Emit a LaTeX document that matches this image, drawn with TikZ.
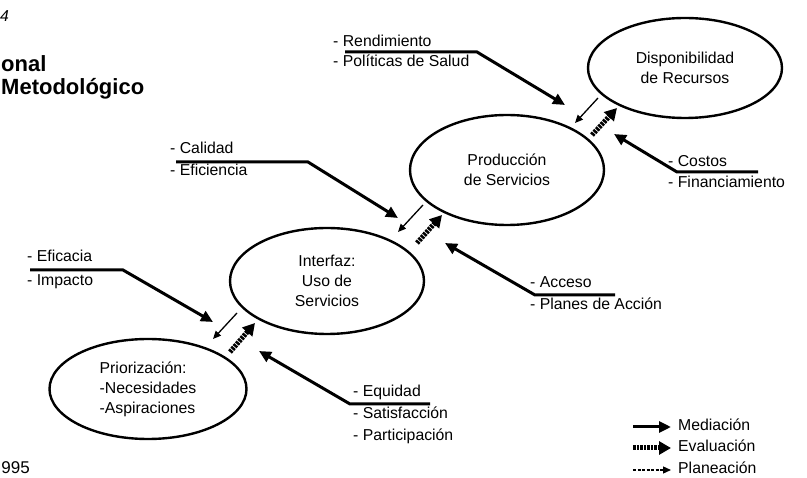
\documentclass[tikz,border=0pt]{standalone}
\usepackage{fontspec}
\setmainfont{Liberation Sans}
\usetikzlibrary{shapes.geometric, positioning, arrows.meta}

\begin{document}
\begin{tikzpicture}[x=1pt, y=-1pt, font=\fontsize{15.8}{20}\selectfont,
    zone/.style={ellipse, draw, line width=2.4pt, inner sep=0pt, align=center},
    lbl/.style={anchor=west, inner sep=0pt, text height=11pt, text depth=3pt},
    med/.style={line width=3pt, -{Triangle[length=12pt, width=11pt]}},
    eval/.style={line width=5pt, dash pattern=on 2.5pt off 1pt, -{Triangle[length=12pt, width=13pt]}},
    plan/.style={line width=1.3pt, -{Triangle[length=8pt, width=7pt]}}]
    \useasboundingbox (0,0) rectangle (807,478);

    % ellipses
    \node[zone, minimum width=194pt, minimum height=100pt] (disp) at (685,68) {Disponibilidad\\de Recursos};
    \node[zone, minimum width=194pt, minimum height=110pt] (prod) at (507,170) {Producción\\de Servicios};
    \node[zone, minimum width=194pt, minimum height=106pt] (uso) at (327,281) {Interfaz:\\Uso de\\Servicios};
    \node[zone, minimum width=197pt, minimum height=100pt, align=left] (prio) at (148,389) {Priorización:\\-Necesidades\\-Aspiraciones};

    % labels
    \node[lbl] (rend) at (333,43) {- Rendimiento};
    \node[lbl] (pol) at (333,63) {- Políticas de Salud};
    \node[lbl] (cal) at (170,150) {- Calidad};
    \node[lbl] (efi) at (170,172) {- Eficiencia};
    \node[lbl] (efc) at (27,258) {- Eficacia};
    \node[lbl] (imp) at (27,282) {- Impacto};
    \node[lbl] (cos) at (668,163) {- Costos};
    \node[lbl] (fin) at (668,184) {- Financiamiento};
    \node[lbl] (acc) at (530,284) {- Acceso};
    \node[lbl] (pla) at (530,306) {- Planes de Acción};
    \node[lbl] (equ) at (353,393) {- Equidad};
    \node[lbl] (sat) at (353,415) {- Satisfacción};
    \node[lbl] (par) at (353,437) {- Participación};

    \coordinate (rend-a) at (345,52);  \coordinate (rend-b) at (477,52);  \coordinate (rend-t) at (565,105);
    \coordinate (cal-a) at (176,162);  \coordinate (cal-b) at (308,162);  \coordinate (cal-t) at (398,218);
    \coordinate (efc-a) at (30,270);   \coordinate (efc-b) at (123,270);  \coordinate (efc-t) at (213,322);
    \coordinate (cos-a) at (758,172);  \coordinate (cos-b) at (677,172);  \coordinate (cos-t) at (614,134);
    \coordinate (acc-a) at (615,295);  \coordinate (acc-b) at (535,295);  \coordinate (acc-t) at (445,243);
    \coordinate (equ-a) at (430,404);  \coordinate (equ-b) at (350,404);  \coordinate (equ-t) at (259,351);

    \draw[med] (rend-a) -- (rend-b) -- (rend-t);
    \draw[med] (cal-a) -- (cal-b) -- (cal-t);
    \draw[med] (efc-a) -- (efc-b) -- (efc-t);
    \draw[med] (cos-a) -- (cos-b) -- (cos-t);
    \draw[med] (acc-a) -- (acc-b) -- (acc-t);
    \draw[med] (equ-a) -- (equ-b) -- (equ-t);

    % planeacion / evaluacion between levels
    \coordinate (pl1) at (598,98);  \coordinate (pl1') at (575,123);
    \coordinate (ev1) at (592,135); \coordinate (ev1') at (617,108);
    \coordinate (pl2) at (423,205); \coordinate (pl2') at (398,232);
    \coordinate (ev2) at (417,243); \coordinate (ev2') at (442,215);
    \coordinate (pl3) at (237,313); \coordinate (pl3') at (213,339);
    \coordinate (ev3) at (230,352); \coordinate (ev3') at (255,323);
    \draw[plan] (pl1) -- (pl1');  \draw[eval] (ev1) -- (ev1');
    \draw[plan] (pl2) -- (pl2');  \draw[eval] (ev2) -- (ev2');
    \draw[plan] (pl3) -- (pl3');  \draw[eval] (ev3) -- (ev3');

    % legend
    \node[lbl] (lmed) at (678,427) {Mediación};
    \node[lbl] (leval) at (678,448) {Evaluación};
    \node[lbl] (lplan) at (678,470) {Planeación};
    \coordinate (k1) at (633,427);
    \coordinate (k2) at (633,448);
    \coordinate (k3) at (633,470);
    \draw[med, shorten >=7pt] (k1) -- (lmed.west);
    \draw[eval, shorten >=7pt] (k2) -- (leval.west);
    \draw[plan, dash pattern=on 3pt off 1.5pt, shorten >=7pt] (k3) -- (lplan.west);

    % title and footer fragments
    \node[anchor=base west, inner sep=0pt, font=\fontsize{15.8}{20}\selectfont\itshape] (yr) at (0,22) {4};
    \node[anchor=base west, inner sep=0pt, font=\bfseries\fontsize{22}{26}\selectfont] (tit1) at (1,72) {onal};
    \node[anchor=base west, inner sep=0pt, font=\bfseries\fontsize{22}{26}\selectfont] (tit2) at (1,95) {Metodológico};
    \node[anchor=base east, inner sep=0pt, font=\fontsize{17}{20}\selectfont] (pie) at (30,474) {995};
\end{tikzpicture}
\end{document}
